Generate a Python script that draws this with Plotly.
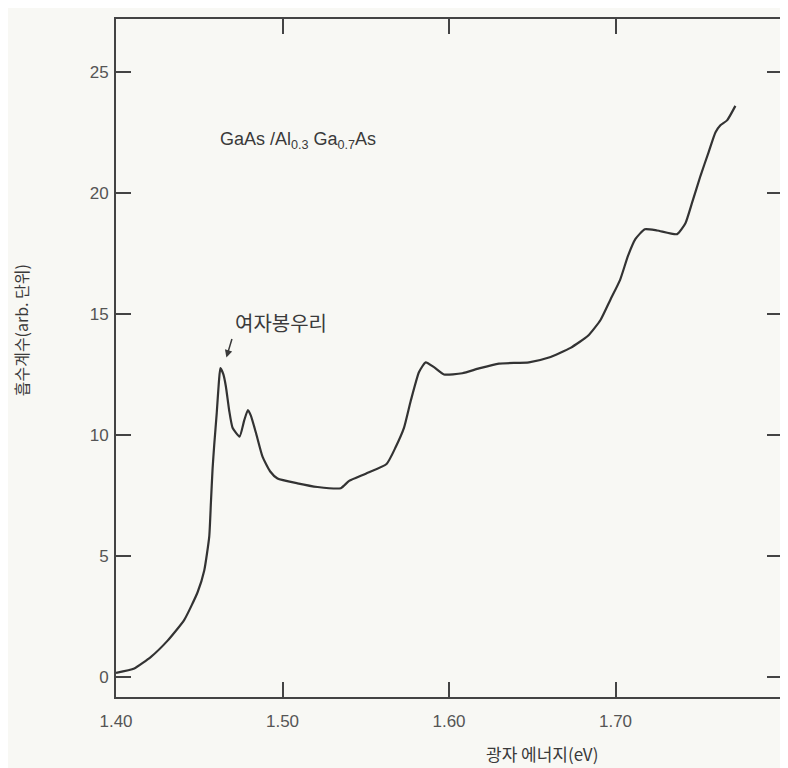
import plotly.graph_objects as go

# Photon energy (eV) and absorption coefficient (arb. units)
energy = [1.400, 1.411, 1.421, 1.431, 1.441, 1.449, 1.453, 1.456, 1.457, 1.458,
          1.459, 1.4605, 1.4618, 1.4627, 1.4645, 1.466, 1.468, 1.470, 1.4742,
          1.477, 1.4792, 1.481, 1.484, 1.488, 1.4925, 1.497, 1.509, 1.521,
          1.535, 1.540, 1.550, 1.5625, 1.568, 1.573, 1.577, 1.582, 1.586,
          1.591, 1.597, 1.608, 1.618, 1.630, 1.648, 1.660, 1.673, 1.6835,
          1.691, 1.697, 1.7027, 1.7075, 1.712, 1.7176, 1.725, 1.737, 1.742,
          1.746, 1.751, 1.756, 1.760, 1.763, 1.767, 1.772]
absorption = [0.17, 0.35, 0.83, 1.5, 2.36, 3.5, 4.4, 5.8, 7.2, 8.6,
              9.6, 10.9, 12.2, 12.76, 12.5, 12.0, 11.0, 10.3, 9.93,
              10.6, 11.03, 10.8, 10.1, 9.1, 8.5, 8.2, 8.0, 7.85,
              7.8, 8.1, 8.4, 8.8, 9.5, 10.3, 11.4, 12.6, 13.0,
              12.8, 12.5, 12.55, 12.75, 12.95, 13.0, 13.2, 13.6, 14.1,
              14.75, 15.6, 16.4, 17.4, 18.1, 18.5, 18.45, 18.3, 18.75,
              19.6, 20.7, 21.7, 22.5, 22.8, 23.0, 23.6]

x_ticks = [1.40, 1.50, 1.60, 1.70]
x_tick_labels = ["1.40", "1.50", "1.60", "1.70"]
y_ticks = [0, 5, 10, 15, 20, 25]

x_title = "광자 에너지(eV)"
y_title = "흡수계수(arb. 단위)"
sample_label = "GaAs /Al<sub>0.3</sub> Ga<sub>0.7</sub>As"
peak_label = "여자봉우리"

num_font = "Liberation Sans, Arial, sans-serif"
kr_font = "Noto Sans CJK KR, sans-serif"
ink = "#3a3a3a"

fig = go.Figure()
fig.add_trace(go.Scatter(
    x=energy, y=absorption, mode="lines",
    line=dict(color="#333333", width=2.2, shape="spline", smoothing=0.5),
    showlegend=False, hoverinfo="skip",
))

axis_common = dict(
    showgrid=False, zeroline=False, showline=True, linecolor="#444444",
    linewidth=2, mirror="allticks", ticks="inside", ticklen=15,
    tickwidth=2, tickcolor="#444444",
    tickfont=dict(family=num_font, size=17, color="#555555"),
)

fig.update_xaxes(range=[1.40, 1.80], tickvals=x_ticks, ticktext=x_tick_labels,
                 ticklabelstandoff=8, **axis_common)
fig.update_yaxes(range=[-0.83, 27.19], tickvals=y_ticks, ticklabelstandoff=2,
                 **axis_common)

# page pixel -> paper fraction (plot area spans page x 116..784, y 19..697)
def px(x):
    return (x - 116) / 668

def py(y):
    return (697 - y) / 678

fig.add_annotation(xref="paper", yref="paper", x=px(543), y=py(753),
                   text=x_title, showarrow=False,
                   font=dict(family=kr_font, size=17, color=ink),
                   xanchor="center", yanchor="middle")
fig.add_annotation(xref="paper", yref="paper", x=px(21), y=py(330),
                   text=y_title, showarrow=False, textangle=-90,
                   font=dict(family=kr_font, size=16, color=ink),
                   xanchor="center", yanchor="middle")
fig.add_annotation(xref="paper", yref="paper", x=px(218), y=py(140),
                   text=sample_label, showarrow=False,
                   font=dict(family=num_font, size=18, color=ink),
                   xanchor="left", yanchor="middle")
fig.add_annotation(xref="paper", yref="paper", x=px(233), y=py(322),
                   text=peak_label, showarrow=False,
                   font=dict(family=kr_font, size=20, color=ink),
                   xanchor="left", yanchor="middle")
fig.add_annotation(x=1.4663, y=13.2, text="", showarrow=True,
                   arrowhead=2, arrowsize=1, arrowwidth=1.5, arrowcolor=ink,
                   ax=6, ay=-20)

# the page body adds an 8px offset, so the figure is 8px smaller each way
fig.update_layout(
    width=780, height=760,
    margin=dict(l=108, r=4, t=11, b=71),
    paper_bgcolor="#f8f8f4", plot_bgcolor="#f8f8f4",
)

fig.write_html("out.html")
